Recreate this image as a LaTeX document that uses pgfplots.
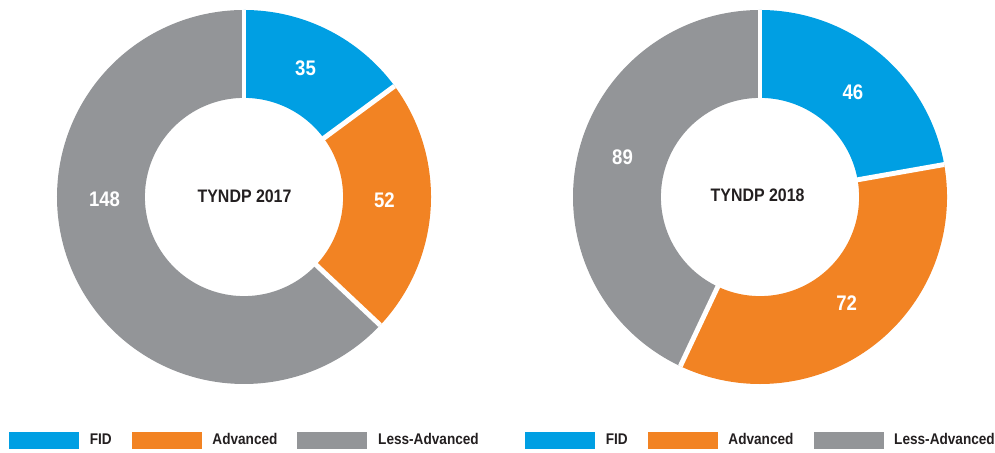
\documentclass[border=0pt]{standalone}
\usepackage{fontspec}
\setmainfont{Liberation Sans}[FakeStretch=0.88]
\usepackage{pgfplots}
\pgfplotsset{compat=1.18}
\definecolor{fidblue}{HTML}{009FE3}
\definecolor{advorange}{HTML}{F28323}
\definecolor{lessgray}{HTML}{939598}
\definecolor{txtdark}{HTML}{231F20}

% one ring segment, drawn clockwise from #1 to #2 degrees
\newcommand{\segment}[3]{%
  \addplot[#3, line width=1.758cm, domain=#1:#2, samples=150, forget plot]
    ({0.765*cos(x)},{0.765*sin(x)});
}
\newcommand{\gap}[1]{%
  \addplot[white, line width=2.8pt, domain=0.45:1.0, samples=2, forget plot]
    ({x*cos(#1)},{x*sin(#1)});
}

\pgfplotsset{
  donut/.style={
    scale only axis, width=7.48cm, height=7.48cm,
    xmin=-1, xmax=1, ymin=-1, ymax=1,
    hide axis, clip=false,
    legend columns=3,
    legend image code/.code={\fill[##1] (0cm,-0.16cm) rectangle (1.38cm,0.16cm);},
    legend style={draw=none, fill=none, inner sep=0pt, outer sep=0pt,
      anchor=west, font=\fontsize{8.8}{10}\selectfont\bfseries,
      text=txtdark,
      nodes={inner sep=0pt},
      /tikz/every odd column/.append style={column sep=0.22cm},
      /tikz/every even column/.append style={column sep=0.4cm}},
  },
}
\tikzset{
  lbl/.style={white, anchor=base, inner sep=0pt, font=\fontsize{12}{14}\selectfont\bfseries},
  ctr/.style={txtdark, anchor=base, inner sep=0pt, font=\fontsize{10.3}{12}\selectfont\bfseries},
}

\begin{document}
\begin{tikzpicture}
  \useasboundingbox (0,0) rectangle (19.9cm,9.04cm);

  % TYNDP 2017: FID 35, Advanced 52, Less-Advanced 148
  \pgfmathsetmacro{\tA}{35+52+148}
  \pgfmathsetmacro{\aA}{90}
  \pgfmathsetmacro{\aB}{90-35/\tA*360}
  \pgfmathsetmacro{\aC}{\aB-52/\tA*360}
  \pgfmathsetmacro{\aD}{-270}
  \begin{axis}[donut, at={(1.14cm,1.36cm)}, anchor=south west,
      legend style={at={(-0.128,-0.15)}}]
    \segment{\aA}{\aB}{fidblue}
    \segment{\aB}{\aC}{advorange}
    \segment{\aC}{\aD}{lessgray}
    \gap{\aA}\gap{\aB}\gap{\aC}
    \addlegendimage{fidblue}\addlegendentry{FID}
    \addlegendimage{advorange}\addlegendentry{Advanced}
    \addlegendimage{lessgray}\addlegendentry{Less-Advanced}
    \node[lbl] at (axis cs:0.329,0.652) {35};
    \node[lbl] at (axis cs:0.751,-0.057) {52};
    \node[lbl] at (axis cs:-0.746,-0.052) {148};
    \node[ctr] at (axis cs:0.003,-0.032) {TYNDP 2017};
  \end{axis}

  % TYNDP 2018: FID 46, Advanced 72, Less-Advanced 89
  \pgfmathsetmacro{\tB}{46+72+89}
  \pgfmathsetmacro{\bA}{90}
  \pgfmathsetmacro{\bB}{90-46/\tB*360}
  \pgfmathsetmacro{\bC}{\bB-72/\tB*360}
  \pgfmathsetmacro{\bD}{-270}
  \begin{axis}[donut, at={(11.46cm,1.36cm)}, anchor=south west,
      legend style={at={(-0.128,-0.15)}}]
    \segment{\bA}{\bB}{fidblue}
    \segment{\bB}{\bC}{advorange}
    \segment{\bC}{\bD}{lessgray}
    \gap{\bA}\gap{\bB}\gap{\bC}
    \addlegendimage{fidblue}\addlegendentry{FID}
    \addlegendimage{advorange}\addlegendentry{Advanced}
    \addlegendimage{lessgray}\addlegendentry{Less-Advanced}
    \node[lbl] at (axis cs:0.497,0.522) {46};
    \node[lbl] at (axis cs:0.463,-0.608) {72};
    \node[lbl] at (axis cs:-0.735,0.175) {89};
    \node[ctr] at (axis cs:-0.013,-0.025) {TYNDP 2018};
  \end{axis}
\end{tikzpicture}
\end{document}
